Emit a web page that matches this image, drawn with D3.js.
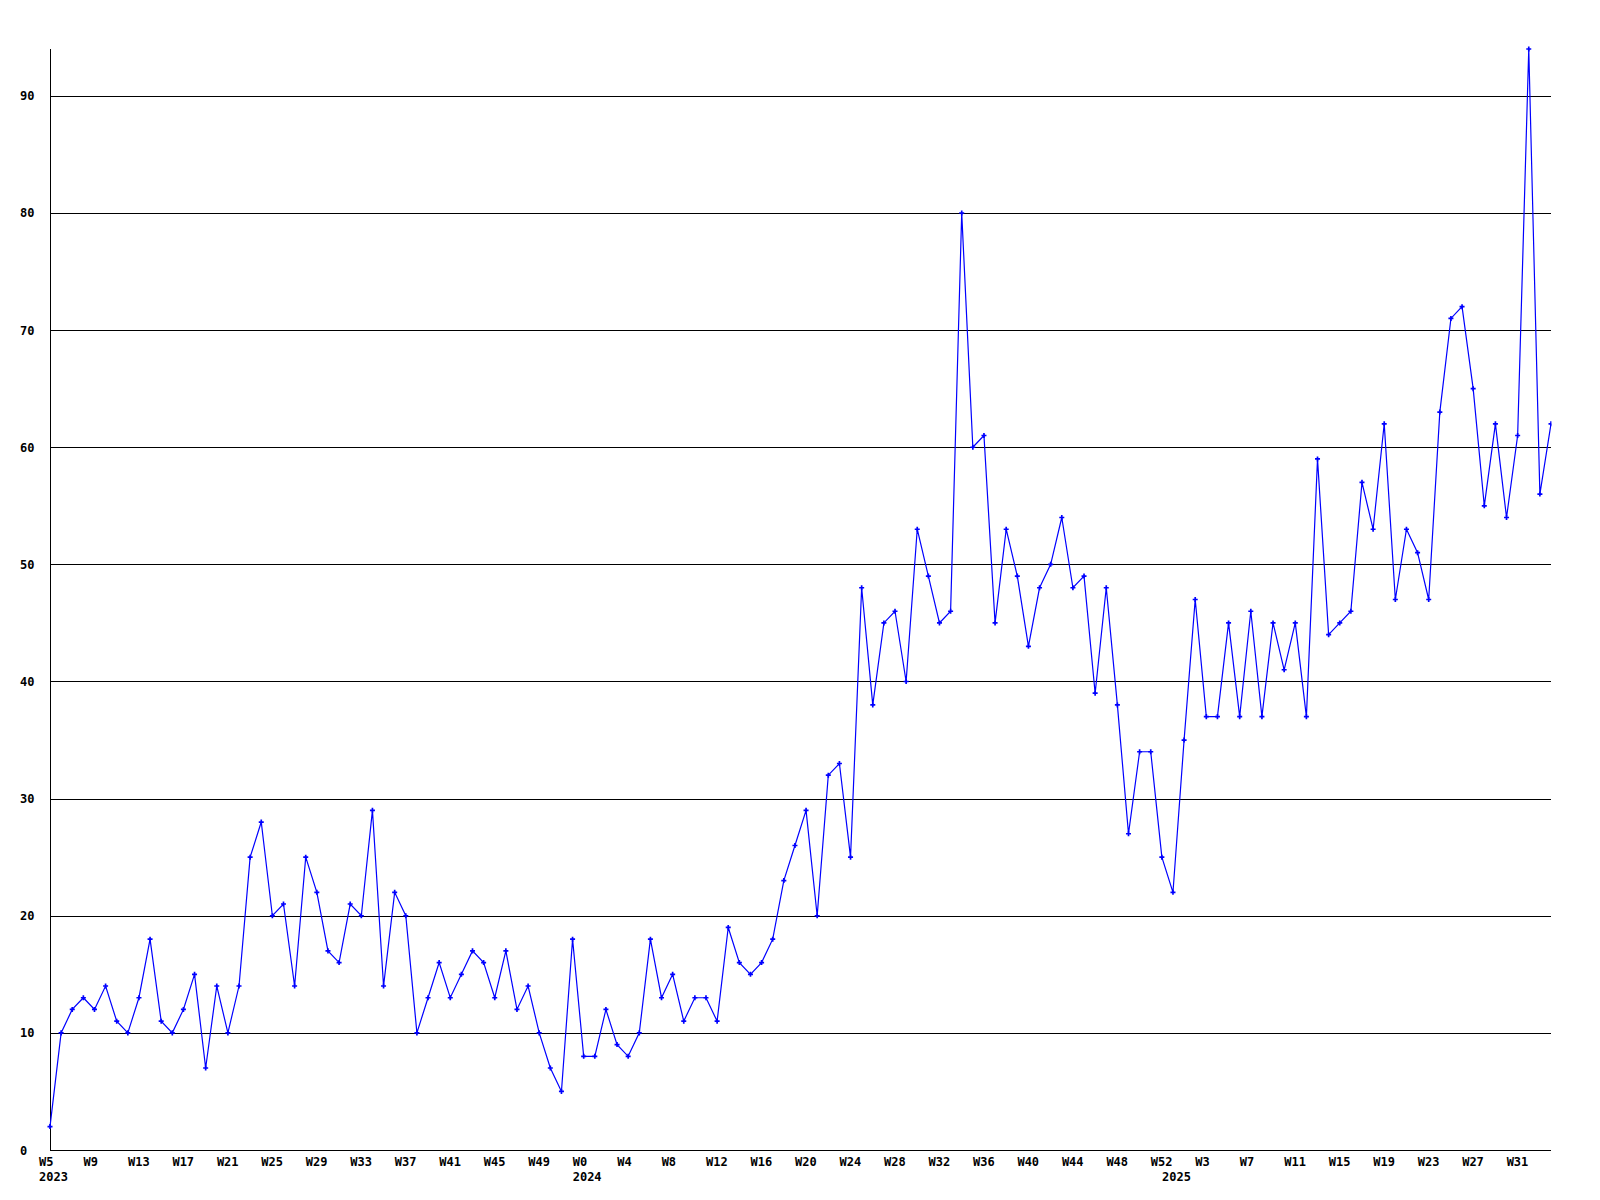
<!DOCTYPE html>
<html>
<head>
<meta charset="utf-8">
<script src="https://cdn.jsdelivr.net/npm/d3@7"></script>
<style>
  html, body { margin: 0; padding: 0; background: #fff; }
  svg { display: block; }
  text { font-family: "DejaVu Sans Mono", "Liberation Mono", monospace; font-weight: bold; font-size: 12px; fill: #000; }
</style>
</head>
<body>
<svg id="chart" width="1600" height="1200"></svg>
<script>
// ---- data ----
const years = [2023, 2024, 2025];
const firstWeek = [5, 0, 0];
const lastWeek = [52, 52, 34];
const values = [
  2,10,12,13,12,14,11,10,13,18,11,10,12,15,7,14,10,14,25,28,20,21,14,25,22,17,16,21,20,29,
  14,22,20,10,13,16,13,15,17,16,13,17,12,14,10,7,
  5,18,8,8,12,9,8,10,18,13,15,11,13,13,11,19,16,15,16,18,23,26,29,20,
  32,33,25,48,38,45,46,40,53,49,45,46,80,60,61,45,53,49,43,48,50,54,48,49,39,48,38,27,34,
  34,25,22,35,47,37,37,45,37,46,37,45,41,45,37,59,44,45,46,57,53,62,47,53,51,47,63,71,72,65,
  55,62,54,61,94,56,62
];
const yTicks = [0,10,20,30,40,50,60,70,80,90];
const yMax = 94;
const labelEvery = 4;

// categories: one per week
const categories = [];
years.forEach((yr, i) => {
  for (let w = firstWeek[i]; w <= lastWeek[i]; w++) categories.push({year: yr, week: w, first: w === firstWeek[i]});
});
categories.forEach((c, i) => { c.key = c.year + "-W" + c.week; c.value = values[i]; c.index = i; });

// ---- layout ----
const mLeft = 50, mRight = 1551, mTop = 49, mBottom = 1150;
const svg = d3.select("#chart");

const x = d3.scalePoint().domain(categories.map(c => c.key)).range([mLeft, mRight]);
const y = d3.scaleLinear().domain([0, yMax]).range([mBottom, mTop]);
const crisp = v => Math.round(v) + 0.5;

// gridlines
svg.append("g").selectAll("line").data(yTicks.filter(t => t > 0)).join("line")
  .attr("x1", mLeft).attr("x2", mRight)
  .attr("y1", d => crisp(y(d))).attr("y2", d => crisp(y(d)))
  .attr("stroke", "#000").attr("stroke-width", 1);

// axes lines
svg.append("line").attr("x1", crisp(mLeft)).attr("x2", crisp(mLeft)).attr("y1", mTop).attr("y2", mBottom)
  .attr("stroke", "#000").attr("stroke-width", 1);
svg.append("line").attr("x1", mLeft).attr("x2", mRight).attr("y1", crisp(mBottom)).attr("y2", crisp(mBottom))
  .attr("stroke", "#000").attr("stroke-width", 1);

// y labels
svg.append("g").selectAll("text").data(yTicks).join("text")
  .attr("x", 20).attr("y", d => y(d) + 4.5)
  .attr("text-anchor", "start")
  .text(d => d);

// x week labels
svg.append("g").selectAll("text").data(categories.filter(c => c.index % labelEvery === 0)).join("text")
  .attr("x", d => x(d.key) - 11).attr("y", 1165.5)
  .attr("text-anchor", "start")
  .text(d => "W" + d.week);

// year labels
svg.append("g").selectAll("text").data(categories.filter(c => c.first)).join("text")
  .attr("x", d => x(d.key) - 11).attr("y", 1181)
  .attr("text-anchor", "start")
  .text(d => d.year);

// clip
svg.append("clipPath").attr("id", "plotclip").append("rect")
  .attr("x", 0).attr("y", 0).attr("width", mRight + 0.5).attr("height", 1200);

const plot = svg.append("g").attr("clip-path", "url(#plotclip)");

const line = d3.line().x(d => x(d.key)).y(d => y(d.value));
plot.append("path").datum(categories)
  .attr("d", line).attr("fill", "none").attr("stroke", "#0000ff").attr("stroke-width", 1.2);

const sym = d3.symbol().type(d3.symbolCross).size(14);
plot.append("g").selectAll("path").data(categories).join("path")
  .attr("transform", d => `translate(${x(d.key)},${y(d.value)})`)
  .attr("d", sym).attr("fill", "#0000ff");
</script>
</body>
</html>
